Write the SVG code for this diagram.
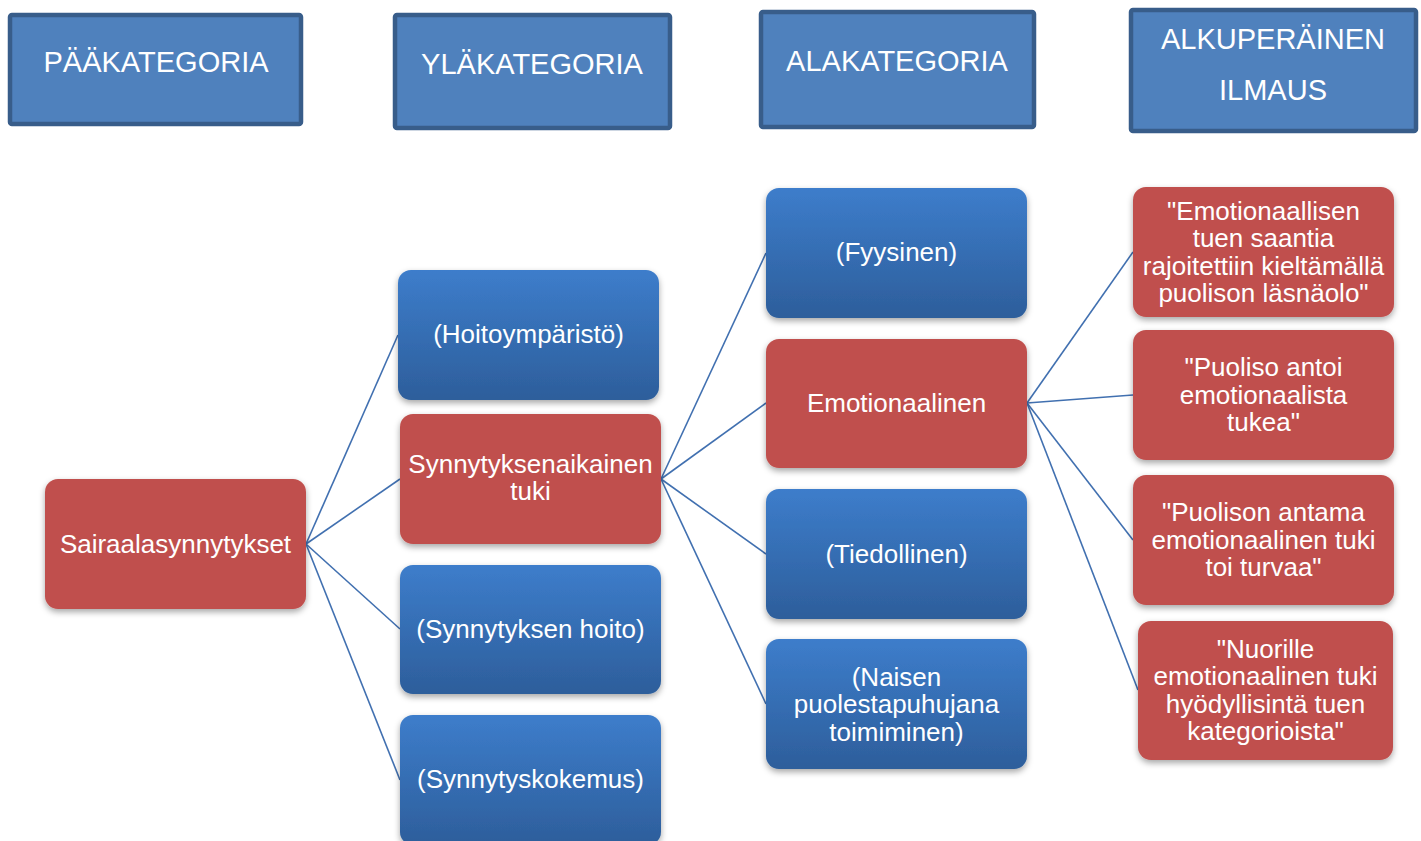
<svg xmlns="http://www.w3.org/2000/svg" width="1421" height="841" viewBox="0 0 1421 841">
<defs>
<linearGradient id="gBlue" x1="0" y1="0" x2="0" y2="1">
<stop offset="0" stop-color="#3D7DCB"/>
<stop offset="1" stop-color="#2D5E9B"/>
</linearGradient>
<filter id="sh" x="-10%" y="-10%" width="125%" height="130%">
<feDropShadow dx="0" dy="3" stdDeviation="3" flood-color="#000" flood-opacity="0.35"/>
</filter>
<style>
.hdr rect{fill:#4F81BD;stroke:#385D8A;stroke-width:4.5}
.hdr text{font-family:"Liberation Sans",Arial,sans-serif;font-size:29px;fill:#fff;text-anchor:middle}
.blue rect{fill:url(#gBlue);filter:url(#sh)}
.red rect{fill:#C0504D;filter:url(#sh)}
.node text{font-family:"Liberation Sans",Arial,sans-serif;font-size:26px;fill:#fff;text-anchor:middle}
#connectors line{stroke:#4170B0;stroke-width:1.6}
</style>
</defs>
<rect width="1421" height="841" fill="#fff"/>

<g id="h1" class="hdr"><rect x="10" y="15" width="291" height="109" rx="2"/><text x="156" y="72">PÄÄKATEGORIA</text></g>
<g id="h2" class="hdr"><rect x="395" y="15" width="275" height="113" rx="2"/><text x="532" y="73.5">YLÄKATEGORIA</text></g>
<g id="h3" class="hdr"><rect x="761" y="12" width="273" height="115" rx="2"/><text x="897" y="70.5">ALAKATEGORIA</text></g>
<g id="h4" class="hdr"><rect x="1131" y="10" width="285" height="121" rx="2"/><text x="1273" y="49">ALKUPERÄINEN</text><text x="1273" y="100">ILMAUS</text></g>

<g id="connectors">
<line x1="306" y1="544" x2="398" y2="335"/>
<line x1="306" y1="544" x2="400" y2="479"/>
<line x1="306" y1="544" x2="400" y2="629"/>
<line x1="306" y1="544" x2="400" y2="780"/>
<line x1="661" y1="479" x2="766" y2="253"/>
<line x1="661" y1="479" x2="766" y2="403"/>
<line x1="661" y1="479" x2="766" y2="554"/>
<line x1="661" y1="479" x2="766" y2="704"/>
<line x1="1027" y1="403" x2="1133" y2="252"/>
<line x1="1027" y1="403" x2="1133" y2="395"/>
<line x1="1027" y1="403" x2="1133" y2="540"/>
<line x1="1027" y1="403" x2="1138" y2="690"/>
</g>

<g id="n-sairaala" class="node red"><rect x="45" y="479" width="261" height="130" rx="13"/><text x="175.5" y="553">Sairaalasynnytykset</text></g>
<g id="n-hoitoymparisto" class="node blue"><rect x="398" y="270" width="261" height="130" rx="13"/><text x="528.5" y="343">(Hoitoympäristö)</text></g>
<g id="n-synnytyksenaikainen" class="node red"><rect x="400" y="414" width="261" height="130" rx="13"/><text x="530.5" y="473">Synnytyksenaikainen</text><text x="530.5" y="500">tuki</text></g>
<g id="n-synnytyksenhoito" class="node blue"><rect x="400" y="565" width="261" height="129" rx="13"/><text x="530.5" y="638">(Synnytyksen hoito)</text></g>
<g id="n-synnytyskokemus" class="node blue"><rect x="400" y="715" width="261" height="130" rx="13"/><text x="530.5" y="788">(Synnytyskokemus)</text></g>

<g id="n-fyysinen" class="node blue"><rect x="766" y="188" width="261" height="130" rx="13"/><text x="896.5" y="261">(Fyysinen)</text></g>
<g id="n-emotionaalinen" class="node red"><rect x="766" y="339" width="261" height="129" rx="13"/><text x="896.5" y="412">Emotionaalinen</text></g>
<g id="n-tiedollinen" class="node blue"><rect x="766" y="489" width="261" height="130" rx="13"/><text x="896.5" y="563">(Tiedollinen)</text></g>
<g id="n-naisen" class="node blue"><rect x="766" y="639" width="261" height="130" rx="13"/><text x="896.5" y="686">(Naisen</text><text x="896.5" y="713">puolestapuhujana</text><text x="896.5" y="741">toimiminen)</text></g>

<g id="q1" class="node red"><rect x="1133" y="187" width="261" height="130" rx="13"/><text x="1263.5" y="220">"Emotionaallisen</text><text x="1263.5" y="247">tuen saantia</text><text x="1263.5" y="275">rajoitettiin kieltämällä</text><text x="1263.5" y="302">puolison läsnäolo"</text></g>
<g id="q2" class="node red"><rect x="1133" y="330" width="261" height="130" rx="13"/><text x="1263.5" y="376">"Puoliso antoi</text><text x="1263.5" y="404">emotionaalista</text><text x="1263.5" y="431">tukea"</text></g>
<g id="q3" class="node red"><rect x="1133" y="475" width="261" height="130" rx="13"/><text x="1263.5" y="521">"Puolison antama</text><text x="1263.5" y="549">emotionaalinen tuki</text><text x="1263.5" y="576">toi turvaa"</text></g>
<g id="q4" class="node red"><rect x="1138" y="621" width="255" height="139" rx="13"/><text x="1265.5" y="658">"Nuorille</text><text x="1265.5" y="685">emotionaalinen tuki</text><text x="1265.5" y="713">hyödyllisintä tuen</text><text x="1265.5" y="740">kategorioista"</text></g>
</svg>
